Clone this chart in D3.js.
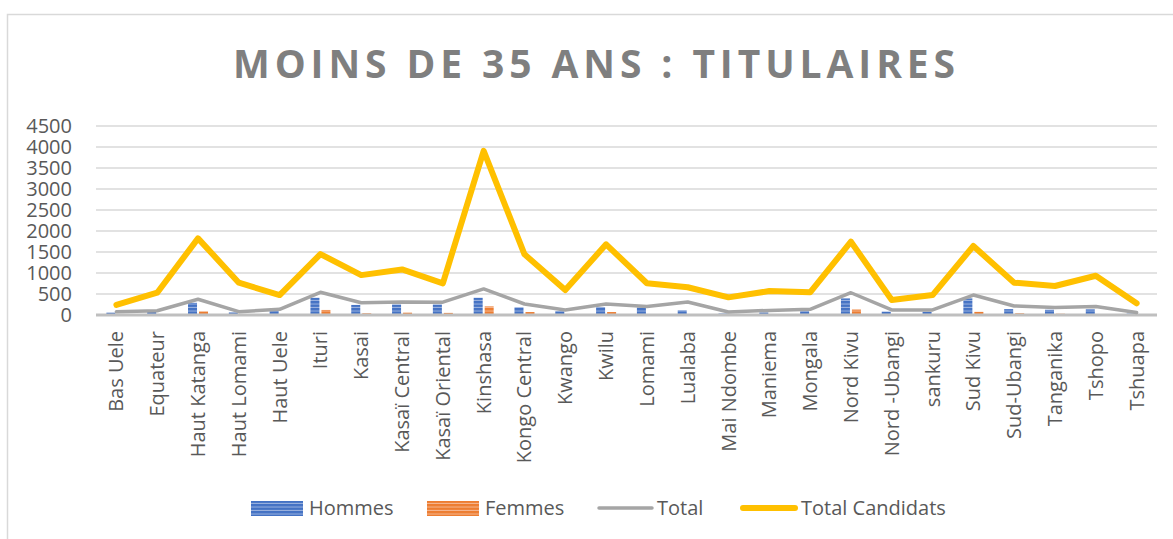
<!DOCTYPE html>
<meta charset="utf-8">
<style>
    body { margin: 0; background: #fff; }
    text { font-family: "Open Sans", sans-serif; fill: #595959; }
</style>
<div id="chart"></div>
<script src="https://d3js.org/d3.v7.min.js"></script>
<script>

    // data
    var provinces = ["Bas Uele", "Equateur", "Haut Katanga", "Haut Lomami", "Haut Uele", "Ituri", "Kasai",
        "Kasaï Central", "Kasaï Oriental", "Kinshasa", "Kongo Central", "Kwango", "Kwilu", "Lomami", "Lualaba",
        "Mai Ndombe", "Maniema", "Mongala", "Nord Kivu", "Nord -Ubangi", "sankuru", "Sud Kivu", "Sud-Ubangi",
        "Tanganika", "Tshopo", "Tshuapa"];
    var hommes = [55, 75, 290, 60, 115, 410, 240, 250, 250, 410, 185, 90, 190, 185, 110, 35, 60, 90, 395, 80, 80, 395, 140, 125, 135, 35];
    var femmes = [20, 20, 85, 15, 15, 120, 40, 55, 50, 205, 70, 25, 70, 15, 10, 10, 15, 20, 130, 15, 15, 75, 40, 30, 10, 10];
    var total = [80, 100, 375, 80, 135, 540, 293, 310, 305, 620, 262, 120, 262, 200, 310, 70, 110, 135, 530, 120, 120, 475, 215, 180, 200, 60];
    var totalCandidats = [240, 530, 1825, 770, 475, 1450, 950, 1085, 755, 3910, 1444, 595, 1682, 755, 660, 420, 570, 540, 1745, 357, 475, 1642, 770, 690, 935, 278];
    var yTicks = [0, 500, 1000, 1500, 2000, 2500, 3000, 3500, 4000, 4500];

    var W = 1173, H = 539;
    var plot = { left: 96, right: 1157, top: 126, bottom: 315 };

    var svg = d3.select("#chart").append("svg")
        .attr("width", W)
        .attr("height", H);

    // stripe patterns for the bars
    var defs = svg.append("defs");
    function stripes(id, base, light) {
        var p = defs.append("pattern")
            .attr("id", id)
            .attr("patternUnits", "userSpaceOnUse")
            .attr("width", 8).attr("height", 3.5);
        p.append("rect").attr("width", 8).attr("height", 3.5).attr("fill", base);
        p.append("rect").attr("y", 2.5).attr("width", 8).attr("height", 1).attr("fill", light);
    }
    stripes("stripeBlue", "#4472C4", "#9DB4E0");
    stripes("stripeOrange", "#ED7D31", "#F6B994");

    // chart border (only top and left visible)
    svg.append("path")
        .attr("d", "M7.5," + H + "V14.5H" + W)
        .attr("fill", "none")
        .attr("stroke", "#D9D9D9")
        .attr("stroke-width", 1.5);

    // title
    svg.append("text")
        .attr("x", 233)
        .attr("y", 78)
        .attr("textLength", 722)
        .attr("lengthAdjust", "spacing")
        .style("font-size", "39px")
        .style("font-weight", "bold")
        .style("fill", "#7F7F7F")
        .text("MOINS DE 35 ANS : TITULAIRES");

    var x = d3.scaleBand()
        .domain(provinces)
        .range([plot.left, plot.right]);

    var y = d3.scaleLinear()
        .domain([0, 4500])
        .range([plot.bottom, plot.top]);

    // gridlines
    svg.append("g")
        .selectAll("line")
        .data(yTicks.slice(1))
        .enter().append("line")
        .attr("x1", plot.left).attr("x2", plot.right)
        .attr("y1", function (d) { return y(d); })
        .attr("y2", function (d) { return y(d); })
        .attr("stroke", "#D9D9D9")
        .attr("stroke-width", 1.5);

    // y labels
    svg.append("g")
        .selectAll("text")
        .data(yTicks)
        .enter().append("text")
        .attr("x", 72)
        .attr("y", function (d) { return y(d); })
        .attr("dy", "0.35em")
        .style("text-anchor", "end")
        .style("font-size", "20px")
        .text(function (d) { return d; });

    // bars
    var bw = 9;
    svg.append("g")
        .selectAll("rect")
        .data(hommes)
        .enter().append("rect")
        .attr("x", function (d, i) { return x(provinces[i]) + x.bandwidth() / 2 - bw - 1; })
        .attr("y", function (d) { return y(d); })
        .attr("width", bw)
        .attr("height", function (d) { return y(0) - y(d); })
        .attr("fill", "url(#stripeBlue)");

    svg.append("g")
        .selectAll("rect")
        .data(femmes)
        .enter().append("rect")
        .attr("x", function (d, i) { return x(provinces[i]) + x.bandwidth() / 2 + 1; })
        .attr("y", function (d) { return y(d); })
        .attr("width", bw)
        .attr("height", function (d) { return y(0) - y(d); })
        .attr("fill", "url(#stripeOrange)");

    // baseline
    svg.append("line")
        .attr("x1", plot.left).attr("x2", plot.right)
        .attr("y1", y(0)).attr("y2", y(0))
        .attr("stroke", "#BFBFBF")
        .attr("stroke-width", 3);

    // lines
    var line = d3.line()
        .x(function (d, i) { return x(provinces[i]) + x.bandwidth() / 2; })
        .y(function (d) { return y(d); });

    svg.append("path")
        .datum(total)
        .attr("d", line)
        .attr("fill", "none")
        .attr("stroke", "#A5A5A5")
        .attr("stroke-width", 3.5)
        .attr("stroke-linejoin", "round")
        .attr("stroke-linecap", "round");

    svg.append("path")
        .datum(totalCandidats)
        .attr("d", line)
        .attr("fill", "none")
        .attr("stroke", "#FFC000")
        .attr("stroke-width", 6)
        .attr("stroke-linejoin", "round")
        .attr("stroke-linecap", "round");

    // x labels
    svg.append("g")
        .selectAll("text")
        .data(provinces)
        .enter().append("text")
        .attr("transform", function (d) {
            return "translate(" + (x(d) + x.bandwidth() / 2) + ",331)rotate(-90)";
        })
        .attr("dy", "0.35em")
        .style("text-anchor", "end")
        .style("font-size", "20px")
        .text(function (d) { return d; });

    // legend
    var legend = svg.append("g");
    legend.append("rect").attr("x", 251).attr("y", 501).attr("width", 52).attr("height", 15).attr("fill", "url(#stripeBlue)");
    legend.append("text").attr("x", 309).attr("y", 515).style("font-size", "20px").text("Hommes");
    legend.append("rect").attr("x", 427).attr("y", 501).attr("width", 52).attr("height", 15).attr("fill", "url(#stripeOrange)");
    legend.append("text").attr("x", 485).attr("y", 515).style("font-size", "20px").text("Femmes");
    legend.append("line").attr("x1", 599).attr("x2", 652).attr("y1", 508).attr("y2", 508)
        .attr("stroke", "#A5A5A5").attr("stroke-width", 3.5).attr("stroke-linecap", "round");
    legend.append("text").attr("x", 657).attr("y", 515).style("font-size", "20px").text("Total");
    legend.append("line").attr("x1", 743).attr("x2", 795).attr("y1", 508).attr("y2", 508)
        .attr("stroke", "#FFC000").attr("stroke-width", 6).attr("stroke-linecap", "round");
    legend.append("text").attr("x", 801).attr("y", 515).style("font-size", "20px").text("Total Candidats");

</script>
